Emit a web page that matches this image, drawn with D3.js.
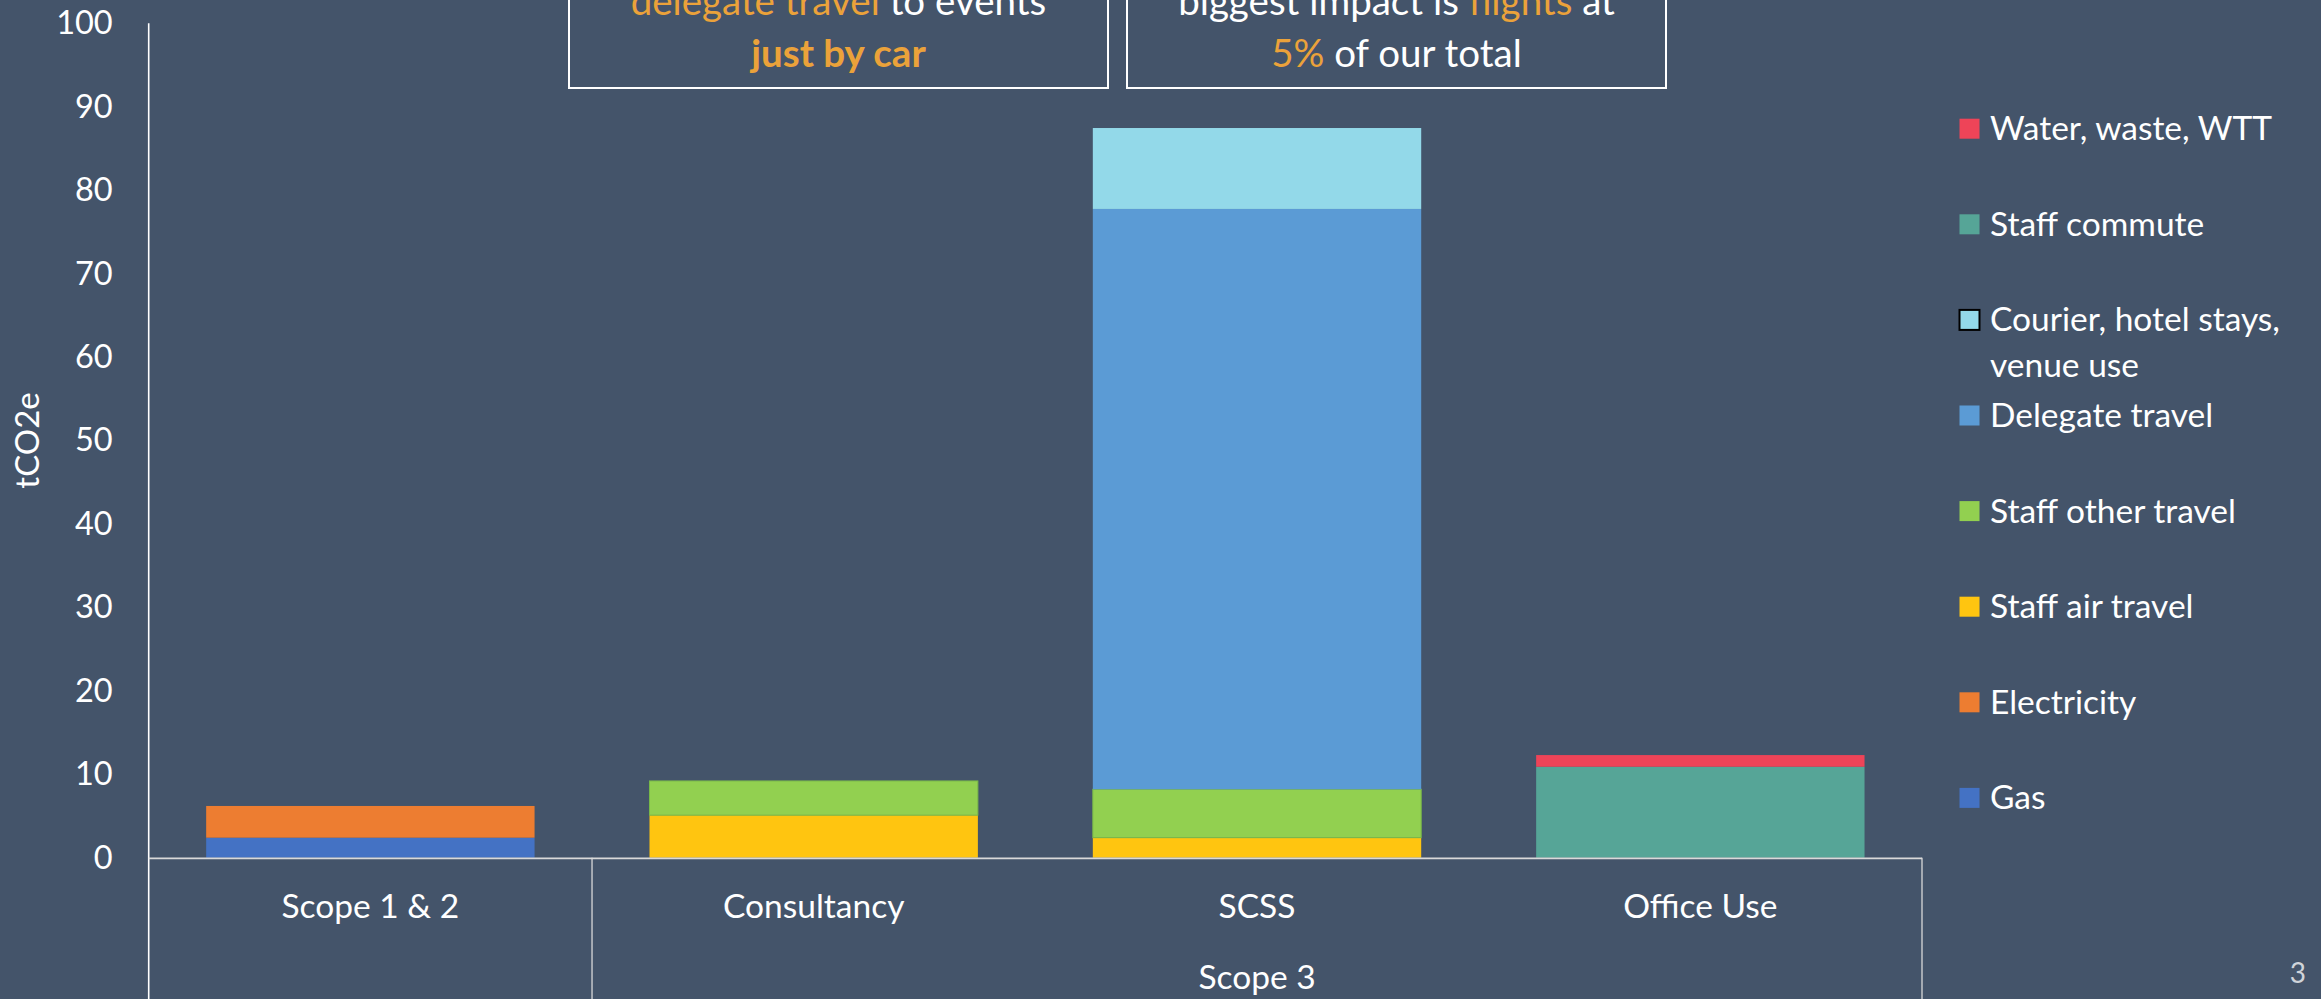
<!DOCTYPE html>
<html><head><meta charset="utf-8">
<script src="https://cdn.jsdelivr.net/npm/d3@7"></script>
<style>
html,body{margin:0;padding:0;background:#44546A;overflow:hidden;}
svg{display:block;font-family:Lato,"Open Sans",sans-serif;}
</style></head>
<body>
<svg id="chart" width="2321" height="999"></svg>
<script>
// ---- data ----
const categories = ["Scope 1 & 2", "Consultancy", "SCSS", "Office Use"];
const groupLabel = "Scope 3";
const seriesNames = ["Gas", "Electricity", "Staff air travel", "Staff other travel",
  "Delegate travel", "Courier, hotel stays, venue use", "Staff commute", "Water, waste, WTT"];
const gas            = [2.4, 0, 0, 0];
const electricity    = [3.8, 0, 0, 0];
const staffAir       = [0, 5.1, 2.4, 0];
const staffOther     = [0, 4.1, 5.8, 0];
const delegate       = [0, 0, 69.55, 0];
const courier        = [0, 0, 9.7, 0];
const staffCommute   = [0, 0, 0, 10.9];
const water          = [0, 0, 0, 1.4];
const seriesColors = ["#4472C4", "#ED7D31", "#FFC510", "#92D050", "#5B9BD5", "#93D9E9", "#56A597", "#EE4458"];
const yTicks = [0, 10, 20, 30, 40, 50, 60, 70, 80, 90, 100];
const yTitle = "tCO2e";

(function () {
const seriesValues = [gas, electricity, staffAir, staffOther, delegate, courier, staffCommute, water];
const rows = categories.map((c, i) => {
  const r = {cat: c};
  seriesNames.forEach((s, j) => r[s] = seriesValues[j][i]);
  return r;
});

const svg = d3.select("#chart");
const orange = "#EBA23A";
const pLeft = 148.7, pRight = 1922, pTop = 23.3, pBase = 857.7;

const x = d3.scaleBand().domain(categories).range([pLeft, pRight]).padding(0);
const y = d3.scaleLinear().domain([0, 100]).range([pBase, pTop]);
const barW = x.bandwidth() / 1.35;

const stacked = d3.stack().keys(seriesNames)(rows);

// bars
const g = svg.append("g");
stacked.forEach((layer, j) => {
  g.selectAll(null).data(layer.filter(d => d[1] - d[0] > 0)).enter().append("rect")
    .attr("x", d => x(d.data.cat) + (x.bandwidth() - barW) / 2)
    .attr("width", barW)
    .attr("y", d => y(d[1]))
    .attr("height", d => y(d[0]) - y(d[1]))
    .attr("fill", seriesColors[j])
    .attr("stroke", seriesNames[j] === "Staff other travel" ? "#79B84A" : "none")
    .attr("stroke-width", 1);
});

// y axis
const yAxis = d3.axisLeft(y).tickValues(yTicks).tickSize(0).tickPadding(36);
const ya = svg.append("g").attr("transform", `translate(${pLeft},0)`).call(yAxis);
ya.select(".domain").remove();
ya.selectAll("text").attr("fill", "#FFFFFF").style("font-size", "32.5px").style("font-family", "Lato");

// axis lines
svg.append("line").attr("x1", pLeft).attr("x2", pLeft).attr("y1", pTop).attr("y2", 999)
  .attr("stroke", "#FFFFFF").attr("stroke-width", 1.6);
svg.append("line").attr("x1", pLeft).attr("x2", pRight).attr("y1", pBase + 0.6).attr("y2", pBase + 0.6)
  .attr("stroke", "#D9D9D9").attr("stroke-width", 1.8);
[x(categories[1]), pRight].forEach(xx => {
  svg.append("line").attr("x1", xx).attr("x2", xx).attr("y1", pBase).attr("y2", 999)
    .attr("stroke", "#D9D9D9").attr("stroke-width", 1.3);
});

// category labels
svg.append("g").selectAll("text").data(categories).enter().append("text")
  .attr("x", d => x(d) + x.bandwidth() / 2).attr("y", 918)
  .attr("text-anchor", "middle").attr("fill", "#FFFFFF").style("font-size", "33.5px")
  .text(d => d);
svg.append("text").attr("x", (x(categories[1]) + pRight) / 2).attr("y", 989)
  .attr("text-anchor", "middle").attr("fill", "#FFFFFF").style("font-size", "33.5px").text(groupLabel);

// y title
svg.append("text").attr("transform", `translate(39,${(pTop + pBase) / 2}) rotate(-90)`)
  .attr("text-anchor", "middle").attr("fill", "#FFFFFF").style("font-size", "33px").text(yTitle);

// legend
const legendY0 = 128.7, legendStep = 95.6;
const legendItems = seriesNames.slice().reverse();
const lg = svg.append("g");
legendItems.forEach((name, i) => {
  const cy = legendY0 + i * legendStep;
  const col = seriesColors[seriesNames.indexOf(name)];
  lg.append("rect").attr("x", 1959.5).attr("y", cy - 10).attr("width", 20).attr("height", 20)
    .attr("fill", col)
    .attr("stroke", name.startsWith("Courier") ? "#000000" : "none").attr("stroke-width", 2);
  const t = lg.append("text").attr("x", 1990).attr("y", cy + 11.5).attr("fill", "#FFFFFF").style("font-size", "33.5px");
  if (name.startsWith("Courier")) {
    t.append("tspan").attr("x", 1990).text("Courier, hotel stays,");
    t.append("tspan").attr("x", 1990).attr("dy", 46).text("venue use");
  } else {
    t.text(name);
  }
});

// annotation boxes
const boxes = [
  {x0: 569, x1: 1108, lines: [
    [{t: "delegate travel", c: orange}, {t: " to events", c: "#FFFFFF"}],
    [{t: "just by car", c: orange, b: true}]
  ]},
  {x0: 1127, x1: 1666, lines: [
    [{t: "biggest impact is ", c: "#FFFFFF"}, {t: "flights", c: orange}, {t: " at", c: "#FFFFFF"}],
    [{t: "5%", c: orange}, {t: " of our total", c: "#FFFFFF"}]
  ]}
];
boxes.forEach(b => {
  svg.append("rect").attr("x", b.x0).attr("y", -10).attr("width", b.x1 - b.x0).attr("height", 98)
    .attr("fill", "#44546A").attr("stroke", "#FFFFFF").attr("stroke-width", 2);
  b.lines.forEach((ln, i) => {
    const t = svg.append("text").attr("x", (b.x0 + b.x1) / 2).attr("y", 15 + i * 52)
      .attr("text-anchor", "middle").style("font-size", "38.5px");
    ln.forEach(seg => t.append("tspan").attr("fill", seg.c)
      .style("font-weight", seg.b ? "bold" : "normal").text(seg.t));
  });
});

// page number
svg.append("text").attr("x", 2306).attr("y", 983).attr("text-anchor", "end")
  .attr("fill", "#D0D4DA").style("font-size", "28px").text("3");
})();
</script>
</body></html>
